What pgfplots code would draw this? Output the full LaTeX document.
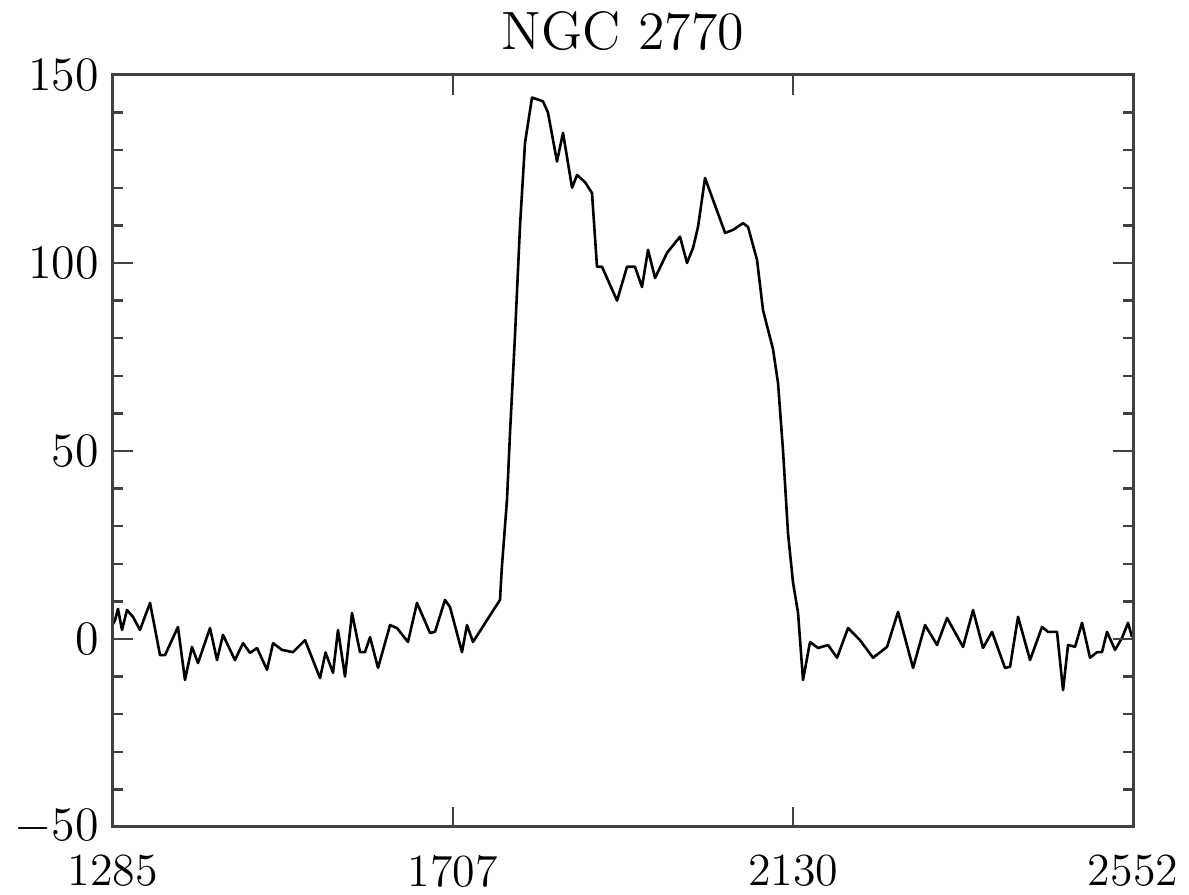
\documentclass[border=0pt]{standalone}
\usepackage{pgfplots}
\pgfplotsset{compat=1.18}
\usepackage{pgfplotstable}
\pgfplotstableread{
v f
1285 4
1287.5 5
1291.2 8
1296.2 2.4
1302.4 7.7
1309.8 5.9
1318.5 2.4
1331 9.6
1343.4 -4.3
1349.6 -4.3
1365.7 3.2
1374.4 -10.9
1383.1 -2.1
1390.6 -6.4
1405.5 2.9
1414.2 -5.6
1421.6 1.1
1436.5 -5.6
1446.5 -1.1
1455.2 -3.7
1463.9 -2.4
1476.3 -8.2
1483.8 -1.1
1494.9 -2.9
1508.6 -3.5
1523.5 -0.3
1542.2 -10.4
1549 -3.6
1558.3 -9
1564.5 2.4
1573.2 -10
1581.9 6.9
1591.8 -3.5
1598 -3.5
1604.3 0.5
1614.2 -7.7
1629.1 3.7
1637.8 2.9
1651.4 -0.8
1662.6 9.6
1678.8 1.6
1685 1.9
1697.4 10.4
1703.6 8.5
1718.5 -3.5
1724.7 3.7
1732.2 -0.8
1748 4.5
1765.7 10.4
1768 19
1774.4 37
1778.2 55
1784.4 81
1790.6 110
1796.8 132
1805.5 144
1819.1 143
1825.3 140
1836.5 127
1844 134.6
1855.2 120
1861.4 123.4
1871.3 121.5
1880 118.6
1886.2 99
1892.4 99
1911.1 90
1923.5 99
1933.4 99
1942.1 93.6
1949.6 103.5
1958.3 96
1973.2 102.7
1989.3 107
1998 100
2005.5 104
2011.7 109.6
2020.4 122.6
2045.3 108
2055.2 108.8
2067.6 110.6
2073.8 109.6
2085 100.8
2092.4 87.5
2104.9 77
2111.1 68
2117.3 50
2123.5 28
2129.7 15
2135.9 7
2142.1 -10.9
2150.8 -0.8
2160.8 -2.4
2173.2 -1.6
2184.4 -5
2198 2.9
2212.9 -0.3
2229.1 -5
2246.5 -2.1
2260.1 7.2
2278.8 -7.7
2293.7 3.7
2308.6 -1.6
2321 5.6
2340.9 -2.1
2353.3 7.7
2365.7 -2.4
2376.9 1.9
2393 -7.7
2399.3 -7.4
2409.2 5.9
2424.1 -5.6
2439 3.2
2446.5 1.9
2457.6 1.9
2465.1 -13.6
2471.3 -1.6
2480 -2.1
2488.7 4.3
2498.6 -5
2507.3 -3.5
2513.5 -3.5
2519.7 1.9
2529.7 -2.9
2538.4 0.3
2545.8 4.3
2550.8 0.5
}\spectrum
\begin{document}
\begin{tikzpicture}
\begin{axis}[
  at={(0pt,0pt)}, anchor=south west,
  scale only axis,
  width=255pt, height=188pt,
  xmin=1285, xmax=2552,
  ymin=-50, ymax=150,
  xtick={1285,1707,2130,2552},
  xticklabels={1285,1707,2130,2552},
  ytick={-50,0,50,100,150},
  minor y tick num=4,
  tick align=inside,
  major tick length=5pt,
  minor tick length=2.6pt,
  axis line style={line width=0.75pt, black!75},
  every tick/.style={line width=0.6pt, black!75},
  tick label style={font=\fontsize{11.5}{14}\selectfont},
  xticklabel style={yshift=-3.5pt},
  yticklabel style={xshift=0pt},
  title={NGC 2770},
  title style={font=\fontsize{13.5}{16}\selectfont, yshift=-3.5pt},
  scaled ticks=false,
  axis on top,
]
\addplot[black, line width=0.65pt, line join=round, mark=none] table[x=v, y=f] {\spectrum};
\end{axis}
\pgfresetboundingbox
\path[use as bounding box] (-28.25pt,-17pt) rectangle (269pt,206.75pt);
\end{tikzpicture}
\end{document}
